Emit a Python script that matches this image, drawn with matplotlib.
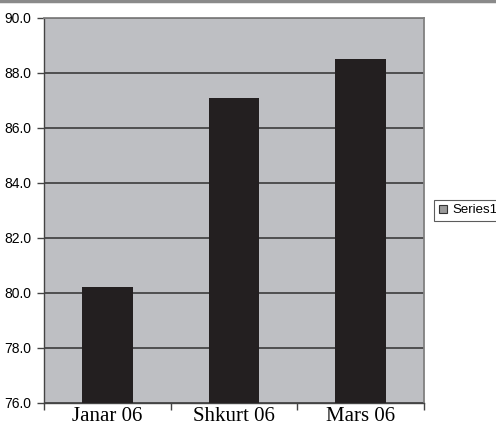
import matplotlib
matplotlib.use("Agg")
import matplotlib.pyplot as plt
from matplotlib.lines import Line2D
from matplotlib.patches import Patch

months = ["Janar 06", "Shkurt 06", "Mars 06"]
values = [80.2, 87.1, 88.5]
y_ticks = [76.0, 78.0, 80.0, 82.0, 84.0, 86.0, 88.0, 90.0]

fig = plt.figure(figsize=(4.96, 4.25), dpi=100)
ax = fig.add_axes([0.0887, 0.0518, 0.766, 0.906])
ax.set_facecolor("#bebfc3")

x = range(len(months))
ax.bar(x, values, width=0.4, color="#231f20", zorder=3, bottom=0)
ax.set_ylim(76, 90)
ax.set_xlim(-0.5, 2.5)

ax.set_yticks(y_ticks)
ax.set_yticklabels(["%.1f" % v for v in y_ticks], family="Liberation Sans", fontsize=10)
ax.yaxis.grid(True, color="#3c3c3c", linewidth=1.2, zorder=1)

# category labels in serif, ticks sit on the category boundaries
ax.set_xticks([0, 1, 2])
ax.set_xticklabels(months, family="Liberation Serif", fontsize=15)
ax.tick_params(axis="x", length=0, pad=3)
ax.set_xticks([-0.5, 0.5, 1.5, 2.5], minor=True)
ax.tick_params(axis="x", which="minor", length=5, color="#444444", width=1)
ax.tick_params(axis="y", length=5, color="#444444", width=1, pad=4)

for side in ["left", "bottom"]:
    ax.spines[side].set_color("#444444")
    ax.spines[side].set_linewidth(1)
for side in ["top", "right"]:
    ax.spines[side].set_color("#808080")
    ax.spines[side].set_linewidth(1.3)

handle = Patch(facecolor="#9a9a9a", edgecolor="#333333", linewidth=0.8)
leg = fig.legend([handle], ["Series1"], loc="center left", bbox_to_anchor=(0.876, 0.505),
                 prop={"family": "Liberation Sans", "size": 9.5}, frameon=True,
                 fancybox=False, handlelength=0.6, handleheight=0.6, handletextpad=0.4,
                 borderpad=0.35, borderaxespad=0)
leg.get_frame().set_edgecolor("#333333")
leg.get_frame().set_linewidth(0.8)

# thin gray rule along the top edge
fig.add_artist(Line2D([0, 1], [0.997, 0.997], color="#8a8a8a", linewidth=2.5))

fig.savefig("out.png", dpi=100)
